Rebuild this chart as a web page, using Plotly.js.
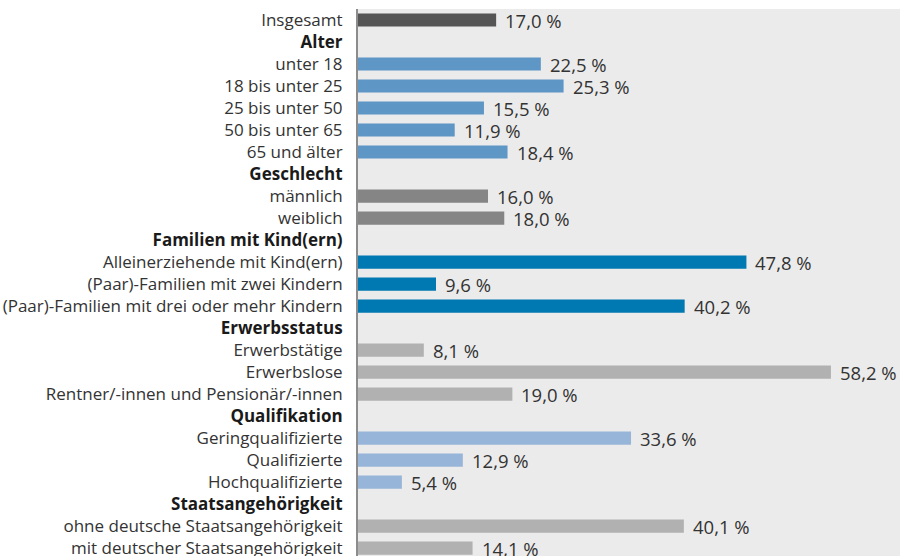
<!DOCTYPE html>
<html>
<head>
<meta charset="utf-8">
<script src="https://cdn.plot.ly/plotly-3.0.1.min.js"></script>
<style>html,body{margin:0;padding:0;background:#fff;}#chart{width:900px;height:556px;}</style>
</head>
<body>
<div id="chart"></div>
<script>
const categories = [
  "Insgesamt",
  "Alter",
  "unter 18",
  "18 bis unter 25",
  "25 bis unter 50",
  "50 bis unter 65",
  "65 und älter",
  "Geschlecht",
  "männlich",
  "weiblich",
  "Familien mit Kind(ern)",
  "Alleinerziehende mit Kind(ern)",
  "(Paar)-Familien mit zwei Kindern",
  "(Paar)-Familien mit drei oder mehr Kindern",
  "Erwerbsstatus",
  "Erwerbstätige",
  "Erwerbslose",
  "Rentner/-innen und Pensionär/-innen",
  "Qualifikation",
  "Geringqualifizierte",
  "Qualifizierte",
  "Hochqualifizierte",
  "Staatsangehörigkeit",
  "ohne deutsche Staatsangehörigkeit",
  "mit deutscher Staatsangehörigkeit"
];
const values = [17.0, null, 22.5, 25.3, 15.5, 11.9, 18.4, null, 16.0, 18.0, null, 47.8, 9.6, 40.2, null, 8.1, 58.2, 19.0, null, 33.6, 12.9, 5.4, null, 40.1, 14.1];
const groups = ["total","header","alter","alter","alter","alter","alter","header","geschlecht","geschlecht","header","familie","familie","familie","header","erwerb","erwerb","erwerb","header","quali","quali","quali","header","staat","staat"];
const groupColors = {
  total: "#555555",
  alter: "#5e96c6",
  geschlecht: "#858585",
  familie: "#0078b1",
  erwerb: "#b1b1b2",
  quali: "#97b4d9",
  staat: "#b1b1b2",
  header: "#ffffff"
};

const idx = categories.map((_, i) => i);
const fmt = v => v.toFixed(1).replace('.', ',') + ' %';
const tickText = categories.map((c, i) => groups[i] === 'header' ? '<b><span style="color:#1a1a1a">' + c + '</span></b>' : c);

const trace = {
  type: 'bar',
  orientation: 'h',
  y: idx,
  x: values,
  width: 0.6,
  marker: { color: groups.map(g => groupColors[g]) },
  hoverinfo: 'skip'
};

const annotations = [];
values.forEach((v, i) => {
  if (v === null) return;
  annotations.push({
    x: v, y: i, xref: 'x', yref: 'y',
    text: fmt(v), showarrow: false,
    xanchor: 'left', yanchor: 'middle', xshift: 7,
    font: { family: 'Open Sans, sans-serif', size: 18.5, color: '#333333' }
  });
});

const layout = {
  width: 900, height: 556,
  margin: { l: 358, r: 0, t: 9, b: 0 },
  paper_bgcolor: '#ffffff',
  plot_bgcolor: '#ebebeb',
  showlegend: false,
  font: { family: 'Open Sans, sans-serif', size: 17, color: '#333333' },
  xaxis: {
    range: [0, 66.7],
    showgrid: false, zeroline: false, showticklabels: false, ticks: '',
    fixedrange: true
  },
  yaxis: {
    range: [24.36, -0.5],
    tickvals: idx,
    ticktext: tickText,
    showgrid: false, zeroline: false,
    showline: true, linecolor: '#8c8c8c', linewidth: 2,
    ticks: 'outside', ticklen: 10, tickcolor: 'rgba(0,0,0,0)',
    ticklabeloverflow: 'allow',
    tickfont: { family: 'Open Sans, sans-serif', size: 17, color: '#333333' },
    fixedrange: true
  },
  annotations: annotations
};

Plotly.newPlot('chart', [trace], layout, { displayModeBar: false, staticPlot: true });
</script>
</body>
</html>
